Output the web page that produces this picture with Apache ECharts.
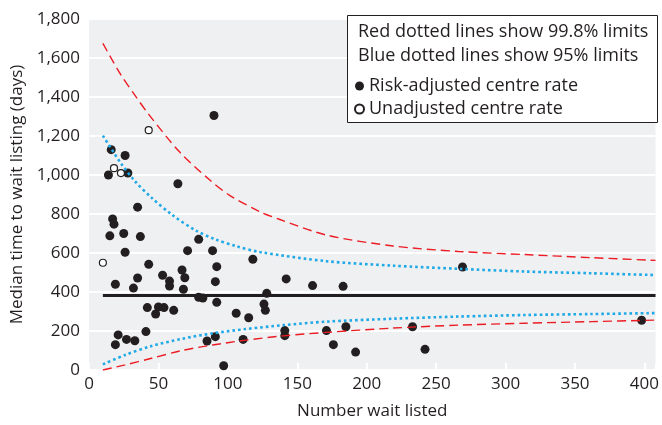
<!DOCTYPE html>
<html>
<head>
<meta charset="utf-8">
<script src="https://cdn.jsdelivr.net/npm/echarts@6/dist/echarts.min.js"></script>
<style>
  html, body { margin: 0; padding: 0; background: #fff; }
  #main { width: 662px; height: 425px; }
</style>
</head>
<body>
<div id="main"></div>
<script>
// risk-adjusted centres: [number wait listed, median days]
var adjusted = [
  [90, 1305], [16, 1130], [26, 1100], [28, 1010], [14, 1000], [64, 955],
  [35, 835], [17, 775], [18, 748], [15, 688], [25, 700], [37, 684],
  [79, 670], [71, 612], [89, 612], [26, 604], [118, 568], [43, 542],
  [92, 530], [269, 528], [67, 513], [53, 486], [69, 473], [35, 472],
  [142, 467], [58, 456], [91, 453], [19, 440], [161, 433], [58, 431],
  [183, 429], [32, 420], [68, 414], [128, 393], [79, 373], [82, 369],
  [92, 347], [126, 338], [42, 320], [50, 323], [54, 320], [127, 306],
  [61, 306], [106, 291], [48, 287], [115, 268], [398, 255], [185, 222],
  [233, 222], [141, 202], [171, 202], [41, 197], [21, 180], [141, 176],
  [91, 171], [27, 157], [111, 157], [33, 150], [85, 149], [19, 130],
  [176, 130], [242, 106], [192, 92], [97, 22]
];
// unadjusted centres
var unadjusted = [[43, 1230], [18, 1035], [23, 1010], [10, 550]];

// overall median
var centreRate = 382;
var centreN = [10, 408];

// control limits read along the funnel
var upperRed = [
  [10, 1675], [23, 1513], [33, 1410], [43, 1311], [65, 1120], [87, 974],
  [101, 897], [123, 812], [137, 773], [171, 692], [219, 636], [266, 608],
  [314, 592], [362, 576], [408, 562]
];
var upperBlue = [
  [10, 1202], [23, 1060], [33, 969], [45, 884], [60, 795], [77, 715],
  [91, 670], [106, 635], [123, 605], [171, 558], [219, 535], [266, 519],
  [314, 505], [362, 496], [408, 487]
];
var lowerBlue = [
  [10, 29], [26, 77], [45, 123], [67, 160], [89, 188], [113, 210],
  [140, 230], [171, 248], [219, 263], [266, 274], [314, 282], [362, 287],
  [408, 292]
];
var lowerRed = [
  [10, 0], [26, 26], [45, 60], [67, 100], [89, 128], [113, 153],
  [140, 175], [171, 193], [219, 215], [266, 230], [314, 240], [362, 248],
  [408, 256]
];

var FONT = '"Open Sans"';
var INK = '#231f20';
var RED = '#ec1c24';
var BLUE = '#1fa9e6';

var chart = echarts.init(document.getElementById('main'));

function limitLine(data, color, width, dash) {
  return {
    type: 'line',
    data: data,
    smooth: 0.3,
    showSymbol: false,
    silent: true,
    z: 5,
    lineStyle: { color: color, width: width, type: dash, cap: 'butt' }
  };
}

var option = {
  animation: false,
  backgroundColor: '#fff',
  textStyle: { fontFamily: FONT },
  grid: {
    left: 89, right: 5, top: 19, bottom: 55,
    show: true, backgroundColor: '#eff0f2', borderWidth: 0
  },
  legend: {
    orient: 'vertical',
    left: 349, top: 72,
    z: 110,
    itemWidth: 9, itemHeight: 9, itemGap: 5,
    icon: 'circle',
    selectedMode: false,
    textStyle: { fontFamily: FONT, fontSize: 18, color: INK },
    data: ['Risk-adjusted centre rate', 'Unadjusted centre rate']
  },
  xAxis: {
    type: 'value',
    min: 0, max: 408, interval: 50,
    name: 'Number wait listed',
    nameLocation: 'middle',
    nameGap: 33,
    nameTextStyle: { fontFamily: FONT, fontSize: 17, color: INK },
    axisLine: { show: false },
    axisTick: { show: true, inside: true, length: 7, lineStyle: { color: '#fff', width: 2 } },
    splitLine: { show: false },
    axisLabel: {
      fontFamily: FONT, fontSize: 17, color: INK, margin: 6,
      formatter: function (v) { return v % 50 === 0 ? String(v) : ''; }
    }
  },
  yAxis: {
    type: 'value',
    min: 0, max: 1800, interval: 200,
    name: 'Median time to wait listing (days)',
    nameLocation: 'middle',
    nameGap: 62,
    nameTextStyle: { fontFamily: FONT, fontSize: 17, color: INK },
    axisLine: { show: false },
    axisTick: { show: false },
    splitLine: { show: true, lineStyle: { color: '#fff', width: 2 } },
    axisLabel: {
      fontFamily: FONT, fontSize: 17, color: INK, margin: 9,
      formatter: function (v) { return v.toLocaleString('en-US'); }
    }
  },
  graphic: [
    {
      type: 'rect', left: 347, top: 15, z: 100,
      shape: { width: 310, height: 107 },
      style: { fill: '#fff', stroke: INK, lineWidth: 1 }
    },
    {
      type: 'text', left: 358, top: 23, z: 101,
      style: { text: 'Red dotted lines show 99.8% limits', fill: INK, font: '18px ' + FONT }
    },
    {
      type: 'text', left: 358, top: 47, z: 101,
      style: { text: 'Blue dotted lines show 95% limits', fill: INK, font: '18px ' + FONT }
    }
  ],
  series: [
    {
      name: 'Centre',
      type: 'line',
      data: [[centreN[0], centreRate], [centreN[1], centreRate]],
      showSymbol: false,
      silent: true,
      z: 2,
      lineStyle: { color: INK, width: 3 }
    },
    {
      name: 'Risk-adjusted centre rate',
      type: 'scatter',
      data: adjusted,
      symbolSize: 9,
      z: 3,
      itemStyle: { color: INK, opacity: 1 }
    },
    {
      name: 'Unadjusted centre rate',
      type: 'scatter',
      data: unadjusted,
      symbolSize: 7,
      z: 3,
      itemStyle: { color: '#fff', borderColor: INK, borderWidth: 1.2, opacity: 1 }
    },
    limitLine(upperRed, RED, 1.4, [9, 5]),
    limitLine(lowerRed, RED, 1.4, [9, 5]),
    limitLine(upperBlue, BLUE, 2.6, [2.6, 3]),
    limitLine(lowerBlue, BLUE, 2.6, [2.6, 3])
  ]
};

chart.setOption(option);

window.addEventListener('resize', function () {
  chart.resize();
});
</script>
</body>
</html>
